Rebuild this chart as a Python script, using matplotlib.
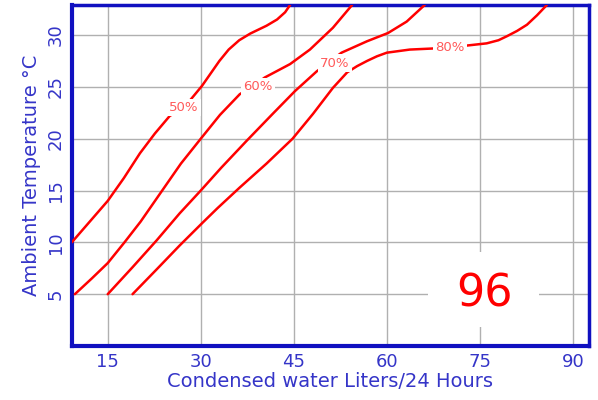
import matplotlib
matplotlib.use("Agg")
import matplotlib.pyplot as plt
from matplotlib.patches import Rectangle

# Curvas de umidade relativa (x = litros/24h, y = temperatura °C)
rh50_x = [9.2, 12.1, 15.0, 17.6, 20.2, 22.6, 25.0, 27.3, 30.2, 33.0, 34.5, 36.2, 38.0, 40.6, 42.3, 43.6, 44.4]
rh50_t = [10.0, 12.0, 14.0, 16.2, 18.6, 20.5, 22.2, 23.0, 25.1, 27.5, 28.6, 29.5, 30.15, 30.9, 31.5, 32.2, 32.9]

rh60_x = [9.7, 12.4, 15.0, 17.7, 20.3, 23.2, 26.8, 30.0, 33.1, 36.3, 38.3, 40.3, 44.4, 47.6, 51.3, 54.4]
rh60_t = [5.0, 6.5, 8.0, 10.0, 12.0, 14.5, 17.6, 20.0, 22.3, 24.3, 25.0, 25.9, 27.2, 28.6, 30.7, 32.9]

rh70_x = [15.0, 19.0, 22.9, 26.6, 30.0, 33.3, 37.4, 41.6, 45.2, 48.7, 52.7, 56.8, 60.2, 63.2, 66.1]
rh70_t = [5.0, 7.6, 10.2, 12.8, 15.0, 17.2, 19.8, 22.4, 24.6, 26.5, 28.3, 29.4, 30.2, 31.3, 32.9]

rh80_x = [19.0, 22.9, 26.6, 30.3, 32.7, 36.3, 40.6, 44.8, 48.1, 51.3, 53.6, 55.2, 56.8, 58.4, 60.0, 63.7,
          67.3, 70.2, 73.1, 76.1, 78.0, 79.4, 81.0, 82.6, 84.2, 85.8]
rh80_t = [5.0, 7.4, 9.7, 11.9, 13.3, 15.3, 17.6, 20.0, 22.4, 24.9, 26.4, 27.0, 27.5, 27.95, 28.3, 28.6,
          28.7, 28.8, 29.0, 29.2, 29.5, 29.9, 30.4, 31.0, 31.9, 32.9]

curve_x = [rh50_x, rh60_x, rh70_x, rh80_x]
curve_t = [rh50_t, rh60_t, rh70_t, rh80_t]
curve_names = ["50%", "60%", "70%", "80%"]
label_x = [27.3, 39.2, 51.6, 70.2]
label_t = [23.0, 25.0, 27.3, 28.8]

x_ticks = [15, 30, 45, 60, 75, 90]
y_ticks = [5, 10, 15, 20, 25, 30]

BLUE = "#1010c0"
TXT = "#3535c8"

plt.rcParams["font.family"] = "DejaVu Sans"

fig = plt.figure(figsize=(5.98, 4.0), dpi=100)
ax = fig.add_axes([0.120, 0.135, 0.865, 0.8525])

for xs, ts in zip(curve_x, curve_t):
    ax.plot(xs, ts, color="red", linewidth=1.8, solid_capstyle="round",
            solid_joinstyle="round", zorder=3)

for name, lx, lt in zip(curve_names, label_x, label_t):
    ax.text(lx, lt, name, color="#ff5a5a", fontsize=9.5, ha="center", va="center",
            zorder=4, bbox=dict(facecolor="white", edgecolor="none", pad=1.6))

# caixa branca atrás do número
ax.add_patch(Rectangle((0.689, 0.056), 0.214, 0.22, transform=ax.transAxes,
                       facecolor="white", edgecolor="none", zorder=2))
ax.text(75.8, 5.0, "96", color="red", fontsize=32, ha="center", va="center", zorder=4)

ax.set_xlim(9.2, 92.6)
ax.set_ylim(0, 32.9)
ax.set_xticks(x_ticks)
ax.set_yticks(y_ticks)
ax.tick_params(length=0, labelsize=13, labelcolor=TXT, pad=5)
ax.tick_params(axis="y", labelrotation=90)
for lab in ax.get_yticklabels():
    lab.set_va("center")
ax.grid(True, color="#b0b0b0", linewidth=1.0, zorder=0)
ax.set_axisbelow(True)

for side in ["left", "bottom"]:
    ax.spines[side].set_linewidth(3.0)
    ax.spines[side].set_color(BLUE)
for side in ["top", "right"]:
    ax.spines[side].set_linewidth(2.5)
    ax.spines[side].set_color(BLUE)

ax.set_xlabel("Condensed water Liters/24 Hours", fontsize=14, color=TXT, labelpad=1)
ax.set_ylabel("Ambient Temperature °C", fontsize=14, color=TXT, labelpad=4)

fig.savefig("out.png", dpi=100)
